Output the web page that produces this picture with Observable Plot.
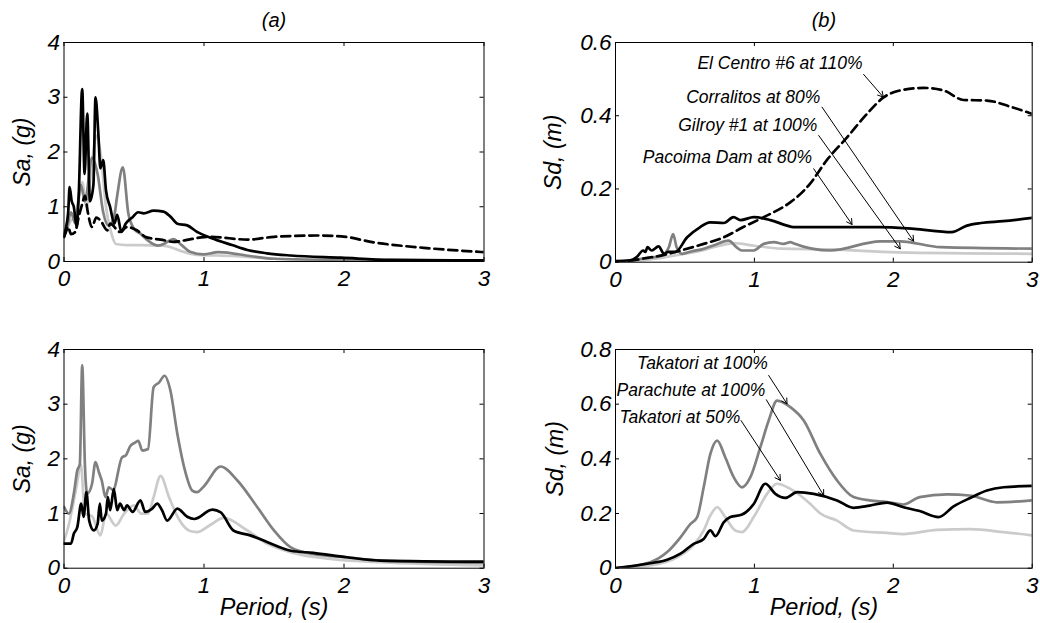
<!DOCTYPE html>
<html><head><meta charset="utf-8">
<script src="https://cdn.jsdelivr.net/npm/d3@7"></script>
<script src="https://cdn.jsdelivr.net/npm/@observablehq/plot@0.6"></script>
<style>
body{margin:0;background:#fff;}
#fig{position:relative;width:1040px;height:623px;background:#fff;overflow:hidden;}
</style></head><body><div id="fig"></div>
<script>
// ---- tick values ----
const periodTicks = [0, 1, 2, 3];
const saTicks = [0, 1, 2, 3, 4];
const sdTicksTop = [0, 0.2, 0.4, 0.6];
const sdTicksBottom = [0, 0.2, 0.4, 0.6, 0.8];

// ---- panel (a) top: Sa (g) vs period (s) ----
const saTopBlack = [[0,0.45],[0.01,0.57],[0.03,0.9],[0.04,1.36],[0.055,1.1],[0.07,1.0],[0.09,0.63],[0.105,1.2],[0.13,3.15],[0.147,1.6],[0.166,2.7],[0.185,1.1],[0.21,1.4],[0.225,3.0],[0.245,2.35],[0.26,1.7],[0.28,1.85],[0.3,1.3],[0.33,0.99],[0.36,0.69],[0.38,0.85],[0.41,0.54],[0.44,0.69],[0.49,0.81],[0.53,0.9],[0.57,0.88],[0.64,0.93],[0.71,0.91],[0.76,0.82],[0.81,0.69],[0.88,0.66],[0.95,0.54],[1.05,0.43],[1.2,0.3],[1.31,0.21],[1.45,0.15],[1.62,0.11],[1.98,0.07],[2.33,0.03],[3.0,0.02]];
const saTopDashed = [[0,0.45],[0.01,0.51],[0.03,0.63],[0.05,0.5],[0.08,0.54],[0.105,0.81],[0.13,1.05],[0.15,1.2],[0.17,0.9],[0.2,0.63],[0.23,0.8],[0.26,0.75],[0.31,0.57],[0.33,0.69],[0.4,0.54],[0.45,0.63],[0.52,0.57],[0.59,0.44],[0.69,0.4],[0.78,0.36],[0.87,0.39],[0.98,0.44],[1.05,0.45],[1.31,0.4],[1.5,0.45],[1.81,0.475],[1.98,0.46],[2.21,0.35],[2.57,0.25],[3.0,0.17]];
const saTopDarkGrey = [[0,0.5],[0.02,0.6],[0.05,0.9],[0.08,0.7],[0.12,1.4],[0.15,1.1],[0.2,1.9],[0.24,1.6],[0.28,0.9],[0.32,0.65],[0.36,0.85],[0.38,1.2],[0.42,1.72],[0.46,0.87],[0.5,0.6],[0.55,0.5],[0.6,0.38],[0.67,0.29],[0.72,0.33],[0.78,0.41],[0.84,0.3],[0.9,0.18],[1.0,0.13],[1.1,0.17],[1.2,0.15],[1.3,0.11],[1.5,0.05],[2.0,0.03],[3.0,0.02]];
const saTopLightGrey = [[0,0.55],[0.02,0.6],[0.05,0.75],[0.08,0.8],[0.11,1.2],[0.13,1.45],[0.16,1.0],[0.2,1.8],[0.23,2.3],[0.26,2.0],[0.3,1.0],[0.34,0.5],[0.37,0.32],[0.45,0.3],[0.55,0.3],[0.7,0.29],[0.75,0.27],[0.85,0.18],[0.95,0.12],[1.1,0.11],[1.2,0.1],[1.5,0.05],[2.0,0.02],[3.0,0.01]];

// ---- panel (a) bottom ----
const saBotDarkGrey = [[0,1.12],[0.035,1.0],[0.07,1.36],[0.095,1.79],[0.113,1.9],[0.13,3.71],[0.15,1.85],[0.165,1.36],[0.2,1.54],[0.225,1.94],[0.25,1.75],[0.27,1.6],[0.296,1.3],[0.32,1.48],[0.35,1.43],[0.415,2.03],[0.44,2.06],[0.475,2.24],[0.51,2.3],[0.53,2.33],[0.56,2.15],[0.6,2.18],[0.64,3.31],[0.68,3.4],[0.718,3.52],[0.76,3.25],[0.81,2.45],[0.87,1.73],[0.916,1.42],[0.95,1.39],[1.0,1.5],[1.118,1.86],[1.24,1.6],[1.38,1.12],[1.5,0.69],[1.62,0.38],[1.78,0.26],[2.02,0.2],[2.26,0.14],[3.0,0.1]];
const saBotBlack = [[0,0.45],[0.05,0.45],[0.07,0.63],[0.095,0.75],[0.123,1.18],[0.14,0.94],[0.16,1.39],[0.18,0.87],[0.213,0.69],[0.24,0.81],[0.256,1.18],[0.27,0.87],[0.3,1.0],[0.313,1.3],[0.33,1.06],[0.356,1.45],[0.38,1.06],[0.4,1.18],[0.43,1.06],[0.45,1.15],[0.49,1.03],[0.546,1.24],[0.58,1.03],[0.63,1.09],[0.666,1.18],[0.7,1.06],[0.737,0.87],[0.81,1.09],[0.88,0.94],[0.93,0.9],[1.06,1.07],[1.12,1.02],[1.21,0.69],[1.33,0.6],[1.45,0.48],[1.62,0.32],[1.78,0.28],[2.02,0.2],[2.26,0.14],[3.0,0.12]];
const saBotLightGrey = [[0,0.5],[0.03,0.75],[0.06,1.1],[0.09,1.5],[0.12,1.9],[0.15,1.0],[0.2,0.95],[0.26,0.6],[0.3,1.0],[0.37,0.78],[0.43,1.0],[0.5,1.15],[0.55,1.0],[0.6,1.0],[0.64,1.3],[0.69,1.69],[0.75,1.3],[0.82,0.9],[0.9,0.68],[0.95,0.66],[1.05,0.8],[1.14,0.92],[1.31,0.69],[1.45,0.45],[1.62,0.29],[1.9,0.17],[2.26,0.11],[3.0,0.05]];

// ---- panel (b) top: Sd (m) ----
const sdTopBlack = [[0,0.003],[0.108,0.005],[0.15,0.013],[0.2,0.032],[0.215,0.028],[0.23,0.041],[0.26,0.032],[0.31,0.043],[0.35,0.023],[0.38,0.028],[0.43,0.028],[0.516,0.068],[0.61,0.096],[0.68,0.109],[0.78,0.107],[0.85,0.123],[0.9,0.115],[0.995,0.123],[1.115,0.115],[1.235,0.1],[1.28,0.096],[1.9,0.096],[2.15,0.091],[2.42,0.082],[2.53,0.1],[2.63,0.107],[2.79,0.112],[3.0,0.121]];
const sdTopDashed = [[0,0],[0.1,0.003],[0.2,0.01],[0.35,0.02],[0.47,0.032],[0.635,0.05],[0.78,0.068],[0.92,0.096],[1.067,0.123],[1.26,0.164],[1.307,0.178],[1.4,0.214],[1.52,0.278],[1.667,0.341],[1.81,0.405],[1.93,0.45],[2.074,0.471],[2.218,0.476],[2.362,0.469],[2.506,0.443],[2.674,0.4415],[2.84,0.425],[3.0,0.405]];
const sdTopDarkGrey = [[0,0],[0.2,0.01],[0.33,0.018],[0.384,0.041],[0.415,0.077],[0.44,0.041],[0.48,0.023],[0.55,0.03],[0.62,0.035],[0.7,0.045],[0.815,0.059],[0.87,0.041],[0.91,0.032],[0.995,0.032],[1.067,0.05],[1.14,0.055],[1.21,0.05],[1.26,0.055],[1.28,0.052],[1.547,0.032],[1.906,0.057],[2.05,0.057],[2.34,0.041],[3.0,0.037]];
const sdTopLightGrey = [[0,0],[0.2,0.005],[0.3,0.01],[0.45,0.02],[0.6,0.03],[0.75,0.045],[0.85,0.052],[1.0,0.045],[1.19,0.037],[1.55,0.035],[2.03,0.027],[3.0,0.023]];

// ---- panel (b) bottom ----
const sdBotDarkGrey = [[0,0],[0.25,0.022],[0.372,0.059],[0.468,0.113],[0.54,0.162],[0.588,0.187],[0.635,0.296],[0.683,0.418],[0.732,0.467],[0.79,0.406],[0.851,0.333],[0.911,0.296],[0.971,0.333],[1.043,0.443],[1.103,0.54],[1.163,0.613],[1.259,0.589],[1.355,0.54],[1.475,0.418],[1.595,0.321],[1.714,0.26],[1.83,0.248],[1.955,0.242],[2.074,0.233],[2.19,0.26],[2.386,0.27],[2.55,0.266],[2.746,0.241],[3.0,0.248]];
const sdBotBlack = [[0,0],[0.25,0.018],[0.372,0.031],[0.468,0.053],[0.563,0.089],[0.635,0.107],[0.683,0.138],[0.72,0.117],[0.779,0.168],[0.827,0.187],[0.911,0.196],[0.995,0.235],[1.079,0.309],[1.151,0.272],[1.223,0.257],[1.307,0.278],[1.427,0.272],[1.595,0.248],[1.714,0.221],[1.83,0.229],[1.955,0.24],[2.074,0.223],[2.19,0.209],[2.326,0.187],[2.434,0.226],[2.554,0.257],[2.674,0.284],[2.794,0.296],[3.0,0.301]];
const sdBotLightGrey = [[0,0],[0.25,0.01],[0.444,0.04],[0.563,0.085],[0.635,0.138],[0.683,0.193],[0.732,0.223],[0.79,0.187],[0.863,0.138],[0.911,0.132],[0.995,0.187],[1.091,0.272],[1.163,0.309],[1.259,0.29],[1.403,0.235],[1.475,0.2],[1.595,0.174],[1.714,0.138],[1.955,0.129],[2.07,0.125],[2.314,0.14],[2.554,0.143],[2.794,0.132],[3.0,0.12]];

// ---- annotations ----
const sdTopNotes = [
  {label: "El Centro #6 at 110%", x: 1.778, y: 0.543},
  {label: "Corralitos at 80%", x: 1.475, y: 0.451},
  {label: "Gilroy #1 at 100%", x: 1.453, y: 0.3735},
  {label: "Pacoima Dam at 80%", x: 1.415, y: 0.287}
];
const sdTopArrows = [
  {x1: 1.786, y1: 0.513, x2: 1.928, y2: 0.451},
  {x1: 1.487, y1: 0.4235, x2: 2.146, y2: 0.0574},
  {x1: 1.463, y1: 0.346, x2: 2.05, y2: 0.0366},
  {x1: 1.427, y1: 0.255, x2: 1.703, y2: 0.103}
];
const sdBotNotes = [
  {label: "Takatori at 100%", x: 1.096, y: 0.748},
  {label: "Parachute at 100%", x: 1.079, y: 0.65},
  {label: "Takatori at 50%", x: 0.899, y: 0.552}
];
const sdBotArrows = [
  {x1: 1.103, y1: 0.705, x2: 1.235, y2: 0.601},
  {x1: 1.086, y1: 0.616, x2: 1.499, y2: 0.266},
  {x1: 0.904, y1: 0.54, x2: 1.187, y2: 0.321}
];

const BLACK = "#000000", DARK = "#808080", LIGHT = "#cbcbcb";
const FONT = '"Liberation Sans", Arial, sans-serif';

function panel(o) {
  const ph = o.height - o.mT - o.mB;
  const pw = o.width - o.mL - o.mR;
  const marks = [];
  for (const s of o.series) {
    marks.push(Plot.line(s.data, {x: d => d[0], y: d => d[1], stroke: s.color, strokeWidth: 2.7,
      strokeDasharray: s.dash, curve: "monotone-x", clip: true, strokeLinejoin: "round"}));
  }
  marks.push(Plot.frame({stroke: "black", strokeWidth: 1}));
  // inward ticks on all four sides
  marks.push(Plot.ruleX(periodTicks, {x: d => d, insetTop: ph - 4, stroke: "black"}));
  marks.push(Plot.ruleX(periodTicks, {x: d => d, insetBottom: ph - 4, stroke: "black"}));
  marks.push(Plot.ruleY(o.yTicks, {y: d => d, insetRight: pw - 4, stroke: "black"}));
  marks.push(Plot.ruleY(o.yTicks, {y: d => d, insetLeft: pw - 4, stroke: "black"}));
  marks.push(Plot.axisX({ticks: periodTicks, tickSize: 0, tickPadding: 9, fontSize: 22.5, label: null, tickFormat: d => String(d)}));
  marks.push(Plot.axisY({ticks: o.yTicks, tickSize: 0, tickPadding: 4, fontSize: 22.5, label: null, tickFormat: d => String(d)}));
  marks.push(Plot.text([o.ylabel], {text: d => d, frameAnchor: "left", rotate: -90, dx: o.ylabelDx, fontSize: 23, textAnchor: "middle", lineAnchor: "middle"}));
  if (o.title) marks.push(Plot.text([o.title], {text: d => d, frameAnchor: "top", dy: -22, fontSize: 20, textAnchor: "middle", lineAnchor: "middle"}));
  if (o.xlabel) marks.push(Plot.text([o.xlabel], {text: d => d, frameAnchor: "bottom", dy: 39, fontSize: 23.5, textAnchor: "middle", lineAnchor: "middle"}));
  if (o.arrows) marks.push(Plot.arrow(o.arrows, {x1: "x1", y1: "y1", x2: "x2", y2: "y2", stroke: "black", strokeWidth: 1, headLength: 9}));
  if (o.notes) marks.push(Plot.text(o.notes, {x: "x", y: "y", text: "label", textAnchor: "end", fontSize: 17.5, lineAnchor: "middle"}));
  const svg = Plot.plot({
    width: o.width, height: o.height,
    marginLeft: o.mL, marginRight: o.mR, marginTop: o.mT, marginBottom: o.mB,
    x: {domain: [0, 3]},
    y: {domain: o.yDomain},
    style: {fontFamily: FONT, fontStyle: "italic", color: "black", background: "transparent", overflow: "visible"},
    marks
  });
  svg.style.position = "absolute";
  svg.style.left = o.left + "px";
  svg.style.top = o.top + "px";
  document.getElementById("fig").appendChild(svg);
}

panel({left: 0, top: 0, width: 520, height: 300, mL: 63.5, mR: 36.5, mT: 42, mB: 39,
  yDomain: [0, 4], yTicks: saTicks, ylabel: "Sa, (g)", ylabelDx: -41, title: "(a)",
  series: [
    {data: saTopLightGrey, color: LIGHT},
    {data: saTopDarkGrey, color: DARK},
    {data: saTopDashed, color: BLACK, dash: "9,5"},
    {data: saTopBlack, color: BLACK}
  ]});

panel({left: 520, top: 0, width: 520, height: 300, mL: 95, mR: 8.3, mT: 42, mB: 38.3,
  yDomain: [0, 0.6], yTicks: sdTicksTop, ylabel: "Sd, (m)", ylabelDx: -62, title: "(b)",
  notes: sdTopNotes, arrows: sdTopArrows,
  series: [
    {data: sdTopLightGrey, color: LIGHT},
    {data: sdTopDarkGrey, color: DARK},
    {data: sdTopDashed, color: BLACK, dash: "9,5"},
    {data: sdTopBlack, color: BLACK}
  ]});

panel({left: 0, top: 300, width: 520, height: 323, mL: 63.5, mR: 36.5, mT: 49, mB: 55.3,
  yDomain: [0, 4], yTicks: saTicks, ylabel: "Sa, (g)", ylabelDx: -41, xlabel: "Period, (s)",
  series: [
    {data: saBotLightGrey, color: LIGHT},
    {data: saBotDarkGrey, color: DARK},
    {data: saBotBlack, color: BLACK}
  ]});

panel({left: 520, top: 300, width: 520, height: 323, mL: 95, mR: 8.3, mT: 49, mB: 55.3,
  yDomain: [0, 0.8], yTicks: sdTicksBottom, ylabel: "Sd, (m)", ylabelDx: -60, xlabel: "Period, (s)",
  notes: sdBotNotes, arrows: sdBotArrows,
  series: [
    {data: sdBotLightGrey, color: LIGHT},
    {data: sdBotDarkGrey, color: DARK},
    {data: sdBotBlack, color: BLACK}
  ]});
</script></body></html>
